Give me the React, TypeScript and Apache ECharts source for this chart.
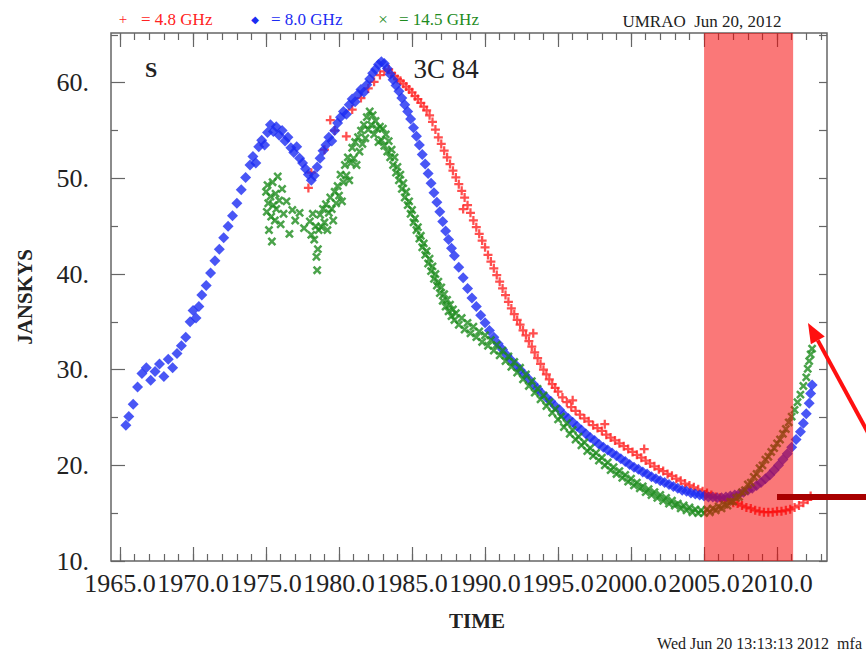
import React, { useEffect, useRef } from "react";
import * as echarts from "echarts";

const majorYears = [1965, 1970, 1975, 1980, 1985, 1990, 1995, 2000, 2005, 2010];
const minorYears = [1965,1966,1967,1968,1969,1970,1971,1972,1973,1974,1975,1976,1977,1978,1979,1980,1981,1982,1983,1984,1985,1986,1987,1988,1989,1990,1991,1992,1993,1994,1995,1996,1997,1998,1999,2000,2001,2002,2003,2004,2005,2006,2007,2008,2009,2010,2011,2012,2013];
const majorJy = [10, 20, 30, 40, 50, 60];
const minorJy = [15, 25, 35, 45, 55, 65];
const shadeRange = [2005.0, 2011.1];

const red48 = [[1977.9,49.0],[1978.1,50.6],[1979.0,53.0],[1979.4,56.1],[1979.7,55.0],[1980.5,54.4],[1980.9,57.2],[1981.5,58.4],[1982.0,59.4],[1982.4,60.1],[1982.8,60.8],[1983.1,61.2],[1983.4,61.4],[1983.6,61.0],[1983.8,60.7],[1984.0,60.4],[1984.2,60.2],[1984.4,59.9],[1984.6,59.6],[1984.8,59.3],[1985.0,59.0],[1985.2,58.6],[1985.4,58.3],[1985.6,57.9],[1985.8,57.5],[1986.0,57.1],[1986.2,56.6],[1986.4,55.9],[1986.6,55.1],[1986.8,54.3],[1987.0,53.6],[1987.2,52.9],[1987.4,52.2],[1987.6,51.5],[1987.8,50.8],[1988.0,50.1],[1988.2,49.4],[1988.4,48.7],[1988.5,46.8],[1988.6,48.0],[1988.8,47.2],[1989.0,46.4],[1989.2,45.6],[1989.4,44.9],[1989.6,44.2],[1989.8,43.5],[1990.0,42.8],[1990.2,42.0],[1990.4,41.3],[1990.6,40.6],[1990.8,39.9],[1991.0,39.2],[1991.2,38.5],[1991.4,37.8],[1991.6,37.1],[1991.8,36.4],[1992.0,35.8],[1992.2,35.2],[1992.4,34.7],[1992.6,34.1],[1992.8,33.6],[1993.0,33.0],[1993.2,32.4],[1993.3,33.8],[1993.4,31.8],[1993.6,31.2],[1993.8,30.6],[1994.0,30.0],[1994.2,29.5],[1994.4,29.0],[1994.6,28.5],[1994.8,28.1],[1995.0,27.7],[1995.3,27.1],[1995.6,26.6],[1995.9,26.1],[1996.0,26.8],[1996.2,25.7],[1996.5,25.3],[1996.8,24.9],[1997.1,24.6],[1997.4,24.2],[1997.7,23.9],[1998.0,23.6],[1998.2,24.3],[1998.3,23.2],[1998.6,22.9],[1998.9,22.6],[1999.2,22.3],[1999.5,22.0],[1999.8,21.7],[2000.1,21.4],[2000.4,21.1],[2000.7,20.8],[2000.9,21.7],[2001.0,20.5],[2001.3,20.2],[2001.6,19.9],[2001.9,19.6],[2002.2,19.4],[2002.5,19.1],[2002.8,18.9],[2003.1,18.6],[2003.4,18.4],[2003.7,18.1],[2004.0,17.9],[2004.3,17.7],[2004.6,17.5],[2004.9,17.3],[2005.2,17.1],[2005.5,16.9],[2005.8,16.7],[2006.1,16.6],[2006.4,16.4],[2006.7,16.3],[2007.0,16.1],[2007.3,16.0],[2007.6,15.8],[2007.9,15.6],[2008.2,15.5],[2008.5,15.3],[2008.8,15.2],[2009.1,15.1],[2009.4,15.1],[2009.7,15.1],[2010.0,15.2],[2010.3,15.2],[2010.6,15.3],[2010.9,15.4],[2011.2,15.6],[2011.5,15.8],[2011.8,16.1],[2012.1,16.4],[2012.3,16.8]];

const blue80 = [[1965.4,24.2],[1965.6,25.1],[1965.9,26.4],[1966.2,28.2],[1966.5,29.6],[1966.8,30.2],[1967.1,28.9],[1967.4,29.8],[1967.7,30.6],[1968.0,29.3],[1968.3,31.1],[1968.6,30.2],[1968.9,31.7],[1969.2,32.5],[1969.5,33.4],[1969.8,35.0],[1970.0,36.2],[1970.2,35.4],[1970.4,36.6],[1970.6,37.8],[1970.9,38.8],[1971.2,40.1],[1971.5,41.4],[1971.8,42.6],[1972.1,43.8],[1972.4,45.0],[1972.7,46.1],[1973.0,47.4],[1973.3,48.8],[1973.6,50.1],[1973.9,51.4],[1974.1,52.3],[1974.3,51.6],[1974.5,53.3],[1974.7,54.0],[1974.9,53.5],[1975.1,54.8],[1975.3,55.6],[1975.5,54.9],[1975.7,55.4],[1975.9,54.5],[1976.1,55.0],[1976.3,53.9],[1976.5,54.3],[1976.7,53.2],[1976.9,52.7],[1977.1,53.3],[1977.3,52.1],[1977.5,51.6],[1977.7,51.0],[1977.9,50.4],[1978.1,49.8],[1978.3,50.3],[1978.5,51.2],[1978.7,52.1],[1978.9,52.9],[1979.1,53.5],[1979.3,54.3],[1979.5,53.9],[1979.7,55.0],[1979.9,55.8],[1980.1,56.4],[1980.3,57.0],[1980.5,56.7],[1980.7,57.7],[1980.9,58.3],[1981.1,58.0],[1981.3,58.8],[1981.5,59.3],[1981.7,59.0],[1981.9,59.8],[1982.1,60.4],[1982.3,61.0],[1982.5,61.4],[1982.7,61.9],[1982.9,62.2],[1983.1,62.0],[1983.3,61.5],[1983.5,60.9],[1983.7,60.3],[1983.9,59.7],[1984.1,59.1],[1984.3,58.4],[1984.5,57.7],[1984.7,57.0],[1984.9,56.2],[1985.1,55.3],[1985.3,54.4],[1985.5,53.5],[1985.7,52.5],[1985.9,51.5],[1986.1,50.5],[1986.3,49.5],[1986.5,48.5],[1986.7,47.5],[1986.9,46.5],[1987.1,45.5],[1987.3,44.5],[1987.5,43.6],[1987.7,42.7],[1987.9,41.9],[1988.2,40.7],[1988.5,39.6],[1988.8,38.5],[1989.1,37.5],[1989.4,36.6],[1989.7,35.7],[1990.0,34.9],[1990.3,34.1],[1990.6,33.4],[1990.9,32.7],[1991.2,32.1],[1991.5,31.5],[1991.8,31.0],[1992.1,30.5],[1992.4,30.0],[1992.7,29.5],[1993.0,29.0],[1993.3,28.5],[1993.6,28.0],[1993.9,27.5],[1994.2,27.1],[1994.5,26.7],[1994.8,26.2],[1995.1,25.8],[1995.4,25.3],[1995.7,24.9],[1996.0,24.5],[1996.3,24.1],[1996.6,23.7],[1996.9,23.3],[1997.2,22.9],[1997.5,22.6],[1997.8,22.2],[1998.1,21.9],[1998.4,21.6],[1998.7,21.3],[1999.0,21.0],[1999.3,20.7],[1999.6,20.4],[1999.9,20.1],[2000.2,19.8],[2000.5,19.6],[2000.8,19.3],[2001.1,19.1],[2001.4,18.8],[2001.7,18.6],[2002.0,18.4],[2002.3,18.2],[2002.6,18.0],[2002.9,17.8],[2003.2,17.6],[2003.5,17.4],[2003.8,17.3],[2004.1,17.1],[2004.4,17.0],[2004.7,16.9],[2005.0,16.8],[2005.3,16.7],[2005.6,16.7],[2005.9,16.6],[2006.2,16.6],[2006.5,16.7],[2006.8,16.8],[2007.1,16.9],[2007.4,17.0],[2007.7,17.2],[2008.0,17.4],[2008.3,17.6],[2008.6,17.9],[2008.9,18.2],[2009.2,18.6],[2009.5,19.0],[2009.8,19.5],[2010.1,20.0],[2010.4,20.6],[2010.7,21.2],[2011.0,21.9],[2011.3,22.7],[2011.6,23.5],[2011.8,24.4],[2012.0,25.4],[2012.2,26.5],[2012.3,27.5],[2012.4,28.4]];

const green145 = [[1975.0,48.6],[1975.05,46.5],[1975.1,49.3],[1975.15,47.4],[1975.2,44.6],[1975.3,48.1],[1975.35,46.0],[1975.4,43.4],[1975.45,49.6],[1975.5,47.2],[1975.6,45.6],[1975.65,48.4],[1975.7,46.8],[1975.8,50.2],[1975.9,47.7],[1976.0,45.2],[1976.1,48.9],[1976.2,46.3],[1976.4,47.6],[1976.6,44.2],[1976.8,46.7],[1977.0,45.6],[1977.3,46.4],[1977.6,44.8],[1978.0,45.5],[1978.1,44.1],[1978.2,46.3],[1978.3,43.6],[1978.4,45.0],[1978.45,41.8],[1978.5,40.4],[1978.55,42.6],[1978.6,44.6],[1978.7,46.2],[1978.8,44.9],[1978.9,46.8],[1979.0,45.4],[1979.1,47.3],[1979.2,44.6],[1979.3,46.4],[1979.4,48.0],[1979.5,46.8],[1979.6,45.6],[1979.7,48.6],[1979.8,47.4],[1979.9,49.2],[1980.0,48.2],[1980.1,50.4],[1980.2,47.6],[1980.3,49.6],[1980.4,51.4],[1980.5,50.3],[1980.6,52.2],[1980.7,49.8],[1980.8,51.6],[1980.9,53.2],[1981.0,52.1],[1981.1,53.8],[1981.2,51.4],[1981.3,54.3],[1981.4,52.8],[1981.5,55.0],[1981.6,53.6],[1981.7,55.6],[1981.8,54.2],[1981.9,56.4],[1982.0,55.1],[1982.1,57.0],[1982.2,55.6],[1982.3,56.6],[1982.4,54.6],[1982.5,56.0],[1982.6,55.2],[1982.7,53.8],[1982.8,55.4],[1982.9,54.0],[1983.0,55.2],[1983.1,53.4],[1983.2,54.6],[1983.3,52.8],[1983.4,53.9],[1983.5,52.2],[1983.6,53.0],[1983.7,51.4],[1983.8,52.2],[1983.9,50.6],[1984.0,51.2],[1984.1,49.8],[1984.2,50.4],[1984.3,48.9],[1984.4,49.5],[1984.5,48.0],[1984.6,48.6],[1984.7,47.2],[1984.8,47.6],[1984.9,46.3],[1985.0,46.7],[1985.1,45.4],[1985.2,45.8],[1985.3,44.6],[1985.4,44.9],[1985.5,43.7],[1985.6,44.0],[1985.7,42.8],[1985.8,43.2],[1985.9,42.0],[1986.0,42.4],[1986.1,41.1],[1986.2,41.6],[1986.3,40.3],[1986.4,40.8],[1986.5,39.5],[1986.6,40.0],[1986.7,38.8],[1986.8,39.2],[1986.9,38.0],[1987.0,38.6],[1987.1,37.2],[1987.2,37.9],[1987.3,36.6],[1987.4,37.3],[1987.5,36.1],[1987.6,36.8],[1987.7,35.6],[1987.8,36.3],[1987.9,35.2],[1988.0,35.9],[1988.2,34.7],[1988.4,35.4],[1988.6,34.2],[1988.8,34.9],[1989.0,33.8],[1989.2,34.5],[1989.4,33.4],[1989.6,34.0],[1989.8,32.9],[1990.0,33.6],[1990.2,32.5],[1990.4,33.1],[1990.6,32.0],[1990.8,32.6],[1991.0,31.5],[1991.2,32.0],[1991.4,30.9],[1991.6,31.4],[1991.8,30.3],[1992.0,30.8],[1992.2,29.7],[1992.4,30.2],[1992.6,29.0],[1992.8,29.5],[1993.0,28.3],[1993.2,28.8],[1993.4,27.6],[1993.6,28.0],[1993.8,26.9],[1994.0,27.3],[1994.2,26.2],[1994.4,26.6],[1994.6,25.5],[1994.8,25.9],[1995.0,24.8],[1995.2,25.1],[1995.4,24.0],[1995.6,24.4],[1995.8,23.3],[1996.0,23.7],[1996.2,22.7],[1996.4,23.0],[1996.6,22.1],[1996.8,22.4],[1997.0,21.5],[1997.2,21.8],[1997.4,21.0],[1997.6,21.3],[1997.8,20.5],[1998.0,20.8],[1998.2,20.0],[1998.4,20.3],[1998.6,19.5],[1998.8,19.8],[1999.0,19.1],[1999.2,19.4],[1999.4,18.7],[1999.6,19.0],[1999.8,18.3],[2000.0,18.6],[2000.2,17.9],[2000.4,18.2],[2000.6,17.6],[2000.8,17.8],[2001.0,17.2],[2001.2,17.5],[2001.4,16.9],[2001.6,17.2],[2001.8,16.6],[2002.0,16.9],[2002.2,16.3],[2002.4,16.6],[2002.6,16.0],[2002.8,16.3],[2003.0,15.8],[2003.2,16.0],[2003.4,15.5],[2003.6,15.8],[2003.8,15.3],[2004.0,15.6],[2004.2,15.1],[2004.4,15.4],[2004.6,15.0],[2004.8,15.3],[2005.0,15.0],[2005.2,15.4],[2005.4,15.1],[2005.6,15.5],[2005.8,15.3],[2006.0,15.7],[2006.2,15.5],[2006.4,15.9],[2006.6,15.8],[2006.8,16.2],[2007.0,16.2],[2007.2,16.6],[2007.4,16.7],[2007.6,17.2],[2007.8,17.4],[2008.0,18.0],[2008.2,18.2],[2008.4,18.8],[2008.6,19.1],[2008.8,19.7],[2009.0,20.0],[2009.2,20.6],[2009.4,20.9],[2009.6,21.4],[2009.8,21.8],[2010.0,22.3],[2010.2,22.7],[2010.4,23.3],[2010.6,23.8],[2010.8,24.5],[2011.0,25.1],[2011.2,25.8],[2011.4,26.6],[2011.6,27.4],[2011.8,28.3],[2012.0,29.2],[2012.1,30.1],[2012.2,30.9],[2012.3,31.6],[2012.4,32.2]];

const SERIF = "'Liberation Serif', 'Times New Roman', serif";
const PLUS = "path://M3,0H5V3H8V5H5V8H3V5H0V3H3Z";
const X_MIN = 1964.38;
const X_MAX = 2013.42;
const Y_MIN = 10;
const Y_MAX = 65.2;
const TICK = { color: "#666", width: 1.2 };

function xAx(position: string, ticks: number[], len: number, labels: boolean) {
  return {
    type: "value", min: X_MIN, max: X_MAX, position,
    axisLine: { show: false, onZero: false },
    splitLine: { show: false },
    axisTick: { show: true, inside: true, length: len, customValues: ticks, lineStyle: TICK },
    axisLabel: labels
      ? {
          show: true, customValues: majorYears, formatter: (v: number) => v.toFixed(1),
          fontSize: 26, fontFamily: SERIF, color: "#222", margin: 9,
          hideOverlap: false, showMinLabel: true, showMaxLabel: true,
        }
      : { show: false },
  };
}
function yAx(position: string, ticks: number[], len: number, labels: boolean) {
  return {
    type: "value", min: Y_MIN, max: Y_MAX, position,
    axisLine: { show: false, onZero: false },
    splitLine: { show: false },
    axisTick: { show: true, inside: true, length: len, customValues: ticks, lineStyle: TICK },
    axisLabel: labels
      ? {
          show: true, customValues: majorJy, formatter: (v: number) => v + ".",
          fontSize: 26, fontFamily: SERIF, color: "#222", margin: 22,
          hideOverlap: false, showMinLabel: true, showMaxLabel: true,
        }
      : { show: false },
  };
}

export default function App() {
  const ref = useRef<HTMLDivElement>(null);
  useEffect(() => {
    if (!ref.current) return;
    const chart = echarts.init(ref.current, null, { renderer: "svg" });
    const ax = 808, ay = 323;
    const dx = -0.49, dy = -0.87;
    const bx = ax - 20 * dx, by = ay - 20 * dy;
    const px = 0.87, py = -0.49;
    chart.setOption({
      animation: false,
      backgroundColor: "#fff",
      grid: { left: 111, top: 33, width: 716, height: 528, show: true, borderColor: "#666", borderWidth: 1.5, backgroundColor: "transparent" },
      xAxis: [
        xAx("bottom", majorYears, 14, true),
        xAx("bottom", minorYears, 7, false),
        xAx("top", majorYears, 14, false),
        xAx("top", minorYears, 7, false),
      ],
      yAxis: [
        yAx("left", majorJy, 14, true),
        yAx("left", minorJy, 7, false),
        yAx("right", majorJy, 8, false),
        yAx("right", minorJy, 8, false),
      ],
      series: [
        { type: "scatter", name: "4.8 GHz", data: red48, symbol: PLUS, symbolSize: 9, itemStyle: { color: "#ff2222" }, z: 2 },
        { type: "scatter", name: "8.0 GHz", data: blue80, symbol: "diamond", symbolSize: 11, itemStyle: { color: "#1c2cf2" }, z: 3 },
        { type: "scatter", name: "14.5 GHz", data: green145, symbol: PLUS, symbolRotate: 45, symbolSize: 10, itemStyle: { color: "#1e8c1e" }, z: 4 },
        {
          type: "scatter", data: [], z: 10,
          markArea: {
            silent: true,
            z: 10,
            itemStyle: { color: "rgba(245,0,0,0.53)" },
            data: [[{ xAxis: shadeRange[0] }, { xAxis: shadeRange[1] }]],
          },
        },
      ],
      graphic: [
        { type: "text", x: 123, y: 19, z: 100, style: { text: "+", fill: "#ff2222", font: "15px " + SERIF, align: "center", verticalAlign: "middle" } },
        { type: "text", x: 141, y: 19, z: 100, style: { text: "= 4.8 GHz", fill: "#ff2222", font: "17px " + SERIF, align: "left", verticalAlign: "middle" } },
        { type: "text", x: 255, y: 19, z: 100, style: { text: "◆", fill: "#1c2cf2", font: "10px 'DejaVu Sans'", align: "center", verticalAlign: "middle" } },
        { type: "text", x: 271, y: 19, z: 100, style: { text: "= 8.0 GHz", fill: "#1c2cf2", font: "17px " + SERIF, align: "left", verticalAlign: "middle" } },
        { type: "text", x: 383, y: 19, z: 100, style: { text: "×", fill: "#1e8c1e", font: "17px " + SERIF, align: "center", verticalAlign: "middle" } },
        { type: "text", x: 399, y: 19, z: 100, style: { text: "= 14.5 GHz", fill: "#1e8c1e", font: "17px " + SERIF, align: "left", verticalAlign: "middle" } },
        { type: "text", x: 702, y: 21, z: 100, style: { text: "UMRAO  Jun 20, 2012", fill: "#222", font: "17px " + SERIF, align: "center", verticalAlign: "middle" } },
        { type: "text", x: 151, y: 69, z: 100, style: { text: "S", fill: "#222", font: "bold 22px " + SERIF, align: "center", verticalAlign: "middle" } },
        { type: "text", x: 446, y: 69, z: 100, style: { text: "3C 84", fill: "#222", font: "27px " + SERIF, align: "center", verticalAlign: "middle" } },
        { type: "text", x: 25, y: 297, rotation: Math.PI / 2, z: 100, style: { text: "JANSKYS", fill: "#222", font: "bold 21px " + SERIF, align: "center", verticalAlign: "middle" } },
        { type: "text", x: 477, y: 621, z: 100, style: { text: "TIME", fill: "#222", font: "bold 21px " + SERIF, align: "center", verticalAlign: "middle" } },
        { type: "text", x: 862, y: 643, z: 100, style: { text: "Wed Jun 20 13:13:13 2012  mfa", fill: "#222", font: "16px " + SERIF, align: "right", verticalAlign: "middle" } },
        { type: "line", z: 100, shape: { x1: 872, y1: 440, x2: bx, y2: by }, style: { stroke: "#ff1010", lineWidth: 4 } },
        { type: "polygon", z: 100, shape: { points: [[ax, ay], [bx + 8 * px, by + 8 * py], [bx - 8 * px, by - 8 * py]] }, style: { fill: "#ff1010" } },
        { type: "rect", z: 100, shape: { x: 777, y: 494, width: 95, height: 6 }, style: { fill: "#a80000" } },
      ],
    });
    return () => chart.dispose();
  }, []);
  return <div ref={ref} style={{ position: "fixed", left: 0, top: 0, width: 866, height: 653 }} />;
}
